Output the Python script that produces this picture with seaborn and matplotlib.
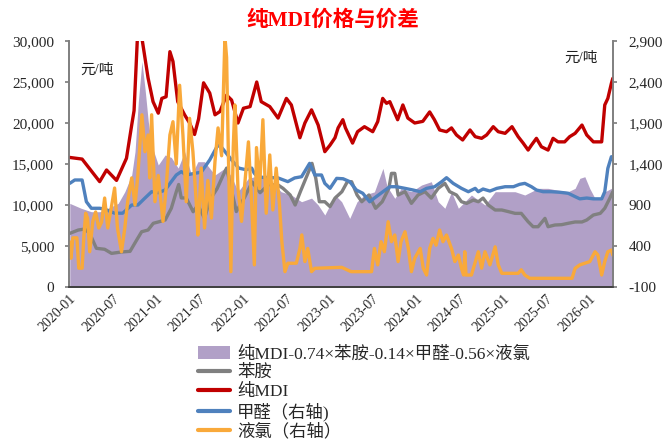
import numpy as np
import pandas as pd
import matplotlib
matplotlib.use('Agg')
import matplotlib.pyplot as plt
import matplotlib.dates as mdates
from matplotlib.ticker import FuncFormatter, MultipleLocator, FixedLocator
from matplotlib.patches import Patch
from matplotlib.lines import Line2D
import seaborn as sns

# ---- data (yuan/ton) ----
# pure MDI, left axis
mdi_dates = ['2020-01-03', '2020-02-24', '2020-05-08', '2020-06-06', '2020-07-18', '2020-08-29',
             '2020-09-20', '2020-09-30', '2020-10-15', '2020-10-25', '2020-11-04', '2020-11-28',
             '2020-12-19', '2021-01-10', '2021-01-25', '2021-02-12', '2021-02-28', '2021-03-13',
             '2021-04-02', '2021-05-01', '2021-05-22', '2021-06-12', '2021-06-29', '2021-07-20',
             '2021-08-15', '2021-09-06', '2021-09-27', '2021-10-25', '2021-11-15', '2021-12-12',
             '2022-01-04', '2022-02-01', '2022-03-01', '2022-03-20', '2022-04-25', '2022-05-30',
             '2022-07-04', '2022-07-25', '2022-08-30', '2022-09-20', '2022-10-18', '2022-11-15',
             '2022-12-13', '2023-01-04', '2023-01-25', '2023-02-07', '2023-02-27', '2023-03-10',
             '2023-04-09', '2023-04-30', '2023-05-29', '2023-07-03', '2023-07-24', '2023-08-14',
             '2023-08-30', '2023-09-13', '2023-10-04', '2023-10-16', '2023-11-07', '2023-11-28',
             '2023-12-27', '2024-01-30', '2024-02-28', '2024-03-19', '2024-04-10', '2024-05-09',
             '2024-05-30', '2024-06-20', '2024-07-16', '2024-08-16', '2024-09-07', '2024-10-04',
             '2024-10-25', '2024-11-22', '2024-12-13', '2025-01-11', '2025-02-09', '2025-03-07',
             '2025-03-28', '2025-04-18', '2025-05-02', '2025-05-23', '2025-06-13', '2025-07-11',
             '2025-08-01', '2025-08-22', '2025-09-19', '2025-10-10', '2025-11-02', '2025-12-01',
             '2025-12-21', '2026-01-18', '2026-02-22', '2026-03-07', '2026-03-20', '2026-04-04',
             '2026-04-10']
mdi_vals = [15800, 15600, 12850, 14270, 13000, 15700,
            19750, 21500, 31000, 32000, 30000, 25500,
            22600, 21200, 23000, 23200, 28700, 27500,
            22600, 21000, 20000, 18600, 20500, 24900,
            23650, 21000, 21400, 23400, 22800, 20000,
            21800, 22000, 25000, 22600, 22000, 20600,
            23000, 22200, 18200, 20000, 21600, 19750,
            16500, 17300, 18200, 19400, 20400, 19400,
            17550, 18940, 19550, 18940, 20170, 23000,
            22400, 22600, 21200, 20400, 22200, 20600,
            20000, 20200, 21350, 20400, 19150, 18940,
            19400, 18540, 17930, 19150, 18330, 18130,
            18540, 19550, 18940, 18740, 19550, 18330,
            17550, 16700, 17300, 18130, 17100, 16700,
            18130, 17700, 17700, 18330, 18740, 19750,
            18540, 17700, 17700, 22200, 23000, 24840,
            25450]

# aniline, left axis
aniline_dates = ['2020-01-03', '2020-02-08', '2020-03-06', '2020-03-27', '2020-04-24', '2020-05-29',
                 '2020-06-27', '2020-08-08', '2020-09-13', '2020-10-11', '2020-11-01', '2020-11-28',
                 '2020-12-20', '2021-01-10', '2021-02-08', '2021-03-06', '2021-03-27', '2021-04-06',
                 '2021-04-17', '2021-05-08', '2021-06-06', '2021-06-26', '2021-07-24', '2021-08-15',
                 '2021-09-15', '2021-10-10', '2021-10-25', '2021-12-05', '2022-01-10', '2022-02-10',
                 '2022-03-15', '2022-04-20', '2022-05-30', '2022-06-20', '2022-07-20', '2022-08-10',
                 '2022-09-01', '2022-09-30', '2022-10-20', '2022-11-05', '2022-11-20', '2022-12-13',
                 '2023-01-04', '2023-01-25', '2023-02-23', '2023-03-18', '2023-04-05', '2023-04-28',
                 '2023-05-18', '2023-06-17', '2023-07-15', '2023-08-12', '2023-09-09', '2023-09-20',
                 '2023-10-04', '2023-10-18', '2023-11-16', '2023-12-13', '2024-01-10', '2024-02-08',
                 '2024-03-06', '2024-04-04', '2024-05-02', '2024-05-22', '2024-06-20', '2024-07-11',
                 '2024-08-02', '2024-08-30', '2024-09-20', '2024-10-10', '2024-11-01', '2024-11-30',
                 '2024-12-28', '2025-01-25', '2025-02-22', '2025-03-20', '2025-04-18', '2025-05-09',
                 '2025-05-30', '2025-06-28', '2025-07-11', '2025-08-09', '2025-09-06', '2025-10-04',
                 '2025-11-02', '2025-12-01', '2025-12-21', '2026-01-18', '2026-02-16', '2026-03-07',
                 '2026-03-28', '2026-04-10']
aniline_vals = [6540, 6950, 7070, 6540, 4720, 4600,
                4100, 4270, 4350, 5730, 6740, 6950,
                7770, 7930, 8170, 9600, 11620, 12500,
                10860, 10860, 9180, 10000, 8370, 10600,
                12000, 13600, 14500, 9200, 11000, 12800,
                11500, 12500, 12440, 12030, 11220, 10000,
                11630, 13660, 15080, 13250, 10400, 10400,
                9800, 10840, 11620, 12840, 12840, 11220,
                10400, 11220, 9600, 10400, 12030, 13860,
                13860, 11220, 11630, 10200, 11220, 11630,
                10840, 12030, 12640, 11630, 11220, 10400,
                10200, 10600, 10400, 10840, 10000, 9390,
                9390, 9190, 8980, 8980, 7960, 7350,
                7350, 8370, 7350, 7560, 7600, 7770,
                7930, 7930, 8170, 8780, 8980, 9600,
                10810, 11620]

# formaldehyde, right axis
hcho_dates = ['2020-01-03', '2020-01-24', '2020-02-24', '2020-03-13', '2020-04-03', '2020-05-08',
              '2020-05-29', '2020-07-10', '2020-08-13', '2020-09-20', '2020-10-16', '2020-11-15',
              '2020-12-13', '2021-01-10', '2021-02-08', '2021-03-06', '2021-03-27', '2021-04-17',
              '2021-05-08', '2021-06-12', '2021-07-10', '2021-08-15', '2021-09-18', '2021-10-05',
              '2021-11-15', '2021-12-15', '2022-01-15', '2022-02-08', '2022-02-18', '2022-03-05',
              '2022-05-30', '2022-07-10', '2022-08-08', '2022-09-06', '2022-10-10', '2022-11-01',
              '2022-11-29', '2022-12-13', '2023-01-04', '2023-02-01', '2023-02-28', '2023-03-28',
              '2023-04-25', '2023-05-22', '2023-06-20', '2023-07-10', '2023-08-15', '2023-09-13',
              '2023-10-11', '2023-11-16', '2023-12-20', '2024-01-19', '2024-02-15', '2024-03-20',
              '2024-04-19', '2024-05-09', '2024-06-06', '2024-07-11', '2024-08-09', '2024-09-07',
              '2024-09-20', '2024-10-10', '2024-11-08', '2024-12-07', '2025-01-11', '2025-02-15',
              '2025-03-13', '2025-04-04', '2025-05-02', '2025-05-23', '2025-06-20', '2025-07-25',
              '2025-08-30', '2025-10-04', '2025-11-02', '2025-11-22', '2025-12-21', '2026-01-18',
              '2026-02-22', '2026-03-07', '2026-03-20', '2026-04-04', '2026-04-10']
hcho_vals = [1164, 1205, 1205, 940, 860, 860,
             850, 800, 800, 900, 900, 985,
             1062, 1050, 1083, 1185, 1266, 1307,
             1266, 1286, 1300, 1450, 1630, 1600,
             1450, 1350, 1330, 1350, 1290, 1240,
             1230, 1185, 1230, 1245, 1408, 1266,
             1266, 1164, 1103, 1225, 1220, 1185,
             1083, 1043, 940, 985, 1062, 1123,
             1123, 1103, 1083, 1062, 1103, 1123,
             1185, 1233, 1164, 1103, 1062, 1103,
             1062, 1095, 1070, 1103, 1123, 1123,
             1152, 1164, 1123, 1083, 1062, 1062,
             1055, 1043, 1002, 975, 985, 975,
             975, 1062, 1347, 1489, 1460]

# liquid chlorine, right axis
cl_dates = ['2020-01-03', '2020-01-08', '2020-01-16', '2020-02-02', '2020-02-10', '2020-02-24',
            '2020-03-02', '2020-03-10', '2020-03-18', '2020-03-27', '2020-04-09', '2020-04-21',
            '2020-05-04', '2020-05-16', '2020-05-29', '2020-06-11', '2020-06-22', '2020-07-10',
            '2020-07-22', '2020-08-08', '2020-08-22', '2020-09-03', '2020-09-20', '2020-10-04',
            '2020-10-16', '2020-11-02', '2020-11-15', '2020-11-28', '2020-12-05', '2020-12-13',
            '2020-12-27', '2021-01-10', '2021-01-30', '2021-02-12', '2021-02-28', '2021-03-13',
            '2021-03-27', '2021-04-10', '2021-04-24', '2021-05-08', '2021-05-22', '2021-06-05',
            '2021-06-19', '2021-06-26', '2021-07-10', '2021-07-24', '2021-08-07', '2021-08-22',
            '2021-09-06', '2021-09-19', '2021-10-04', '2021-10-18', '2021-10-25', '2021-11-01',
            '2021-11-12', '2021-11-22', '2021-11-29', '2021-12-12', '2021-12-27', '2022-01-11',
            '2022-01-25', '2022-02-08', '2022-02-19', '2022-02-28', '2022-03-13', '2022-03-27',
            '2022-04-10', '2022-04-25', '2022-05-08', '2022-05-22', '2022-06-05', '2022-06-15',
            '2022-06-28', '2022-07-10', '2022-08-15', '2022-08-30', '2022-09-07', '2022-09-20',
            '2022-10-02', '2022-10-18', '2022-11-01', '2023-02-22', '2023-04-03', '2023-06-28',
            '2023-07-10', '2023-07-24', '2023-08-07', '2023-08-21', '2023-09-06', '2023-09-20',
            '2023-10-04', '2023-10-18', '2023-10-30', '2023-11-16', '2023-11-30', '2023-12-13',
            '2023-12-27', '2024-01-19', '2024-02-01', '2024-02-15', '2024-02-28', '2024-03-13',
            '2024-03-26', '2024-04-10', '2024-04-24', '2024-05-09', '2024-05-30', '2024-06-13',
            '2024-06-28', '2024-07-11', '2024-07-20', '2024-07-25', '2024-07-30', '2024-08-22',
            '2024-09-20', '2024-10-04', '2024-10-18', '2024-11-08', '2024-11-30', '2024-12-13',
            '2024-12-28', '2025-03-07', '2025-03-20', '2025-04-04', '2025-04-25', '2025-10-20',
            '2025-11-02', '2025-11-22', '2025-12-13', '2026-01-03', '2026-01-25', '2026-02-06',
            '2026-02-22', '2026-03-07', '2026-03-20', '2026-04-04', '2026-04-10']
cl_vals = [450, 250, 500, 500, 130, 130,
           500, 800, 740, 330, 700, 815,
           620, 690, 985, 620, 800, 1107,
           620, 330, 620, 940, 1230, 900,
           1266, 2000, 1550, 1754, 1230, 2000,
           940, 1260, 700, 1100, 1754, 1916,
           1400, 2360, 1750, 940, 1957, 1550,
           940, 534, 1350, 620, 1200, 740,
           1428, 1840, 1500, 2950, 2700, 1600,
           87, 1600, 2120, 1100, 700, 1200,
           1670, 900, 170, 1600, 1100, 1940,
           800, 1510, 840, 1350, 900, 450,
           87, 190, 190, 370, 535, 210,
           370, 87, 128, 140, 87, 87,
           370, 170, 452, 330, 696, 452,
           534, 210, 452, 574, 370, 87,
           250, 370, 128, 46, 370, 493,
           410, 595, 452, 534, 370, 210,
           290, 128, 46, 330, 46, 46,
           330, 130, 330, 170, 390, 170,
           67, 67, 110, 46, 6, 6,
           128, 170, 190, 210, 330, 290,
           46, 210, 330, 350, 290]

# spread: MDI - 0.74*aniline - 0.14*HCHO - 0.56*Cl2, left axis
spread_dates = ['2020-01-03', '2020-02-20', '2020-04-03', '2020-05-08', '2020-05-29', '2020-07-25',
                '2020-08-22', '2020-09-20', '2020-10-04', '2020-10-18', '2020-11-02', '2020-11-15',
                '2020-11-29', '2020-12-13', '2021-01-10', '2021-02-08', '2021-03-06', '2021-04-04',
                '2021-05-01', '2021-05-30', '2021-06-26', '2021-07-24', '2021-09-06', '2021-10-18',
                '2021-11-15', '2021-12-12', '2022-01-25', '2022-03-20', '2022-05-01', '2022-06-12',
                '2022-07-25', '2022-09-06', '2022-10-18', '2022-11-15', '2022-12-13', '2023-01-25',
                '2023-02-22', '2023-03-28', '2023-04-28', '2023-05-29', '2023-07-10', '2023-08-15',
                '2023-09-01', '2023-10-04', '2023-10-30', '2023-12-13', '2024-01-25', '2024-03-06',
                '2024-04-04', '2024-05-02', '2024-05-30', '2024-06-28', '2024-07-25', '2024-08-22',
                '2024-10-18', '2024-11-30', '2025-01-11', '2025-02-22', '2025-04-04', '2025-05-02',
                '2025-05-30', '2025-07-11', '2025-08-22', '2025-10-04', '2025-11-02', '2025-11-22',
                '2025-12-13', '2026-01-03', '2026-01-25', '2026-02-22', '2026-03-07', '2026-04-04',
                '2026-04-10']
spread_vals = [10200, 9600, 9180, 9180, 9400, 10200,
               11620, 13660, 16500, 22600, 27500, 24230,
               20160, 17320, 14880, 16100, 15800, 14500,
               16500, 13660, 15280, 15280, 13660, 14500,
               13500, 11620, 13250, 13660, 12840, 11620,
               11220, 10400, 10840, 10000, 8780, 11220,
               10400, 8370, 10400, 11220, 11600, 14470,
               12300, 10810, 12000, 11630, 12440, 12840,
               10400, 9600, 11600, 9600, 10400, 11220,
               10000, 11620, 11620, 11620, 11220, 11620,
               12030, 12030, 11800, 11630, 12030, 13250,
               13450, 12000, 10800, 10800, 11600, 12030,
               12000]

spread_label = '纯MDI-0.74×苯胺-0.14×甲醛-0.56×液氯'
names = ['苯胺', '纯MDI', '甲醛（右轴)', '液氯（右轴）']
right_ticks = [-100, 400, 900, 1400, 1900, 2400, 2900]
colors = {'spread': '#B1A0C7', 'aniline': '#808080', 'mdi': '#C00000',
          'hcho': '#4F81BD', 'cl': '#F9A93A'}

sns.set_theme(style='white')
plt.rcParams['font.family'] = ['Liberation Serif', 'Noto Sans CJK SC']
plt.rcParams['axes.unicode_minus'] = False

spread = pd.DataFrame({'date': pd.to_datetime(spread_dates), 'val': spread_vals})
mdi = pd.DataFrame({'date': pd.to_datetime(mdi_dates), 'val': mdi_vals})
aniline = pd.DataFrame({'date': pd.to_datetime(aniline_dates), 'val': aniline_vals})
hcho = pd.DataFrame({'date': pd.to_datetime(hcho_dates), 'val': hcho_vals})
cl = pd.DataFrame({'date': pd.to_datetime(cl_dates), 'val': cl_vals})

fig = plt.figure(figsize=(6.62, 4.41), dpi=100)
ax = fig.add_axes([69.3 / 662, 1 - 287 / 441, (613.3 - 69.3) / 662, 246 / 441])
ax2 = ax.twinx()

ax.fill_between(spread['date'], 0, spread['val'], color=colors['spread'], lw=0, zorder=1)
sns.lineplot(data=aniline, x='date', y='val', ax=ax, color=colors['aniline'], lw=2.4, zorder=2)
sns.lineplot(data=mdi, x='date', y='val', ax=ax, color=colors['mdi'], lw=2.4, zorder=3)
sns.lineplot(data=hcho, x='date', y='val', ax=ax2, color=colors['hcho'], lw=2.4)
sns.lineplot(data=cl, x='date', y='val', ax=ax2, color=colors['cl'], lw=2.4)

ax.set_xlim(pd.Timestamp('2020-01-01'), pd.Timestamp('2026-04-12'))
ax.set_ylim(0, 30000)
ax2.set_ylim(-100, 2900)
ax.yaxis.set_major_locator(MultipleLocator(5000))
ax2.yaxis.set_major_locator(FixedLocator(right_ticks))
ax.yaxis.set_major_formatter(FuncFormatter(lambda v, p: f'{v:,.0f}'))
ax2.yaxis.set_major_formatter(FuncFormatter(lambda v, p: f'{v:,.0f}'))
ax.xaxis.set_major_locator(mdates.MonthLocator(bymonth=[1, 7]))
ax.xaxis.set_major_formatter(mdates.DateFormatter('%Y-%m'))
for a in (ax, ax2):
    a.set_xlabel('')
    a.set_ylabel('')
    a.grid(False)
    a.spines['top'].set_visible(False)
    a.spines['left'].set_color('#808080')
    a.spines['right'].set_color('#808080')
    a.spines['bottom'].set_color('#404040')

ax.tick_params(axis='y', which='major', direction='out', length=3, color='#808080',
               labelsize=11, pad=8, left=True)
ax2.tick_params(axis='y', which='major', direction='out', length=3, color='#808080',
                labelsize=11, pad=8, right=True)
ax.tick_params(axis='x', which='major', direction='in', length=4, color='#404040',
               labelsize=10, pad=4, bottom=True)
for lab in ax.get_xticklabels():
    lab.set_rotation(45)
    lab.set_ha('right')
    lab.set_rotation_mode('anchor')

fig.text(333 / 662, 1 - 21 / 441, '纯MDI价格与价差', color='#FF0000', fontsize=15.5,
         fontweight='bold', ha='center', va='center')
ax.text(80 / 662, 1 - 70 / 441, '元/吨', transform=fig.transFigure, fontsize=10.5,
        ha='left', va='center', color='#202020')
ax.text(564 / 662, 1 - 58 / 441, '元/吨', transform=fig.transFigure, fontsize=10.5,
        ha='left', va='center', color='#202020')

handles = [Patch(facecolor=colors['spread'], edgecolor='none'),
           Line2D([], [], color=colors['aniline'], lw=3),
           Line2D([], [], color=colors['mdi'], lw=3),
           Line2D([], [], color=colors['hcho'], lw=3),
           Line2D([], [], color=colors['cl'], lw=3)]
fig.legend(handles, [spread_label] + names, loc='upper left',
           bbox_to_anchor=(198 / 662, 1 - 346 / 441), frameon=False, fontsize=12.5,
           handlelength=1.85, handleheight=0.75, handletextpad=0.4, labelspacing=0.14,
           borderaxespad=0, borderpad=0)

fig.savefig('out.png', dpi=100)
